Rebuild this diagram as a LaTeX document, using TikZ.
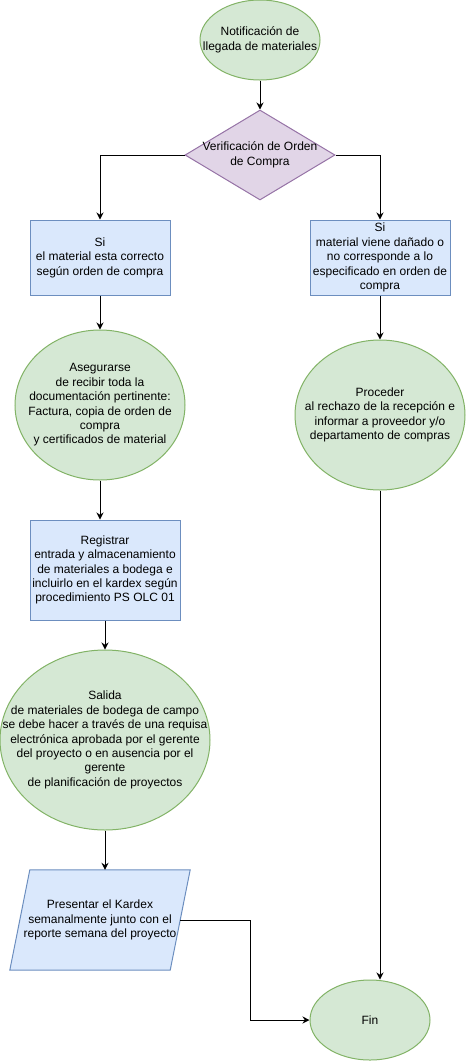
\documentclass[tikz,border=0pt]{standalone}
\usepackage{fontspec}
\setmainfont{Liberation Sans}
\usetikzlibrary{shapes.geometric,arrows.meta,calc}
\pgfdeclarelayer{background}
\pgfsetlayers{background,main}
\definecolor{gf}{HTML}{D5E8D4}
\definecolor{gd}{HTML}{82B366}
\definecolor{bf}{HTML}{DAE8FC}
\definecolor{bd}{HTML}{6C8EBF}
\definecolor{pf}{HTML}{E1D5E7}
\definecolor{pd}{HTML}{9673A6}
\tikzset{
  txt/.style={font=\fontsize{12}{14.4}\selectfont, align=center, inner sep=0pt, text=black},
  ell/.style={ellipse, draw=gd, fill=gf, line width=1pt, inner sep=0pt},
  box/.style={rectangle, draw=bd, fill=bf, line width=1pt, inner sep=0pt},
  dia/.style={diamond, draw=pd, fill=pf, line width=1pt, inner sep=0pt},
  arr/.style={-{Stealth[length=7pt,width=7pt]}, line width=1pt, black},
  lnk/.style={line width=1pt, black}
}
\begin{document}
\begin{tikzpicture}[x=1pt,y=-1pt]
\useasboundingbox (0,0) rectangle (466,1061);
\node[ell, minimum width=120, minimum height=80, label={[txt]center:{Notificación de\\llegada de materiales}}] (n1) at (260,40) {};
\node[dia, minimum width=150, minimum height=90, label={[txt]center:{Verificación de Orden\\de Compra}}] (d1) at (260,155) {};
\node[box, minimum width=140, minimum height=75, label={[txt]center:{Si\\el material esta correcto\\según orden de compra}}] (b1) at (100,257.5) {};
\node[box, minimum width=140, minimum height=75, label={[txt]center:{Si\\material viene dañado o\\no corresponde a lo\\especificado en orden de\\compra}}] (b2) at (380,257.5) {};
\node[ell, minimum width=170, minimum height=150, label={[txt]center:{Asegurarse\\de recibir toda la\\documentación pertinente:\\Factura, copia de orden de\\compra\\y certificados de material}}] (c1) at (100,405) {};
\node[ell, minimum width=170, minimum height=150, label={[txt]center:{Proceder\\al rechazo de la recepción e\\informar a proveedor y/o\\departamento de compras}}] (c2) at (380,415) {};
\node[box, minimum width=150, minimum height=100, label={[txt]center:{Registrar\\entrada y almacenamiento\\de materiales a bodega e\\incluirlo en el kardex según\\procedimiento PS OLC 01}}] (r1) at (105,570) {};
\node[ell, minimum width=210, minimum height=180, label={[txt]center:{Salida\\de materiales de bodega de campo\\se debe hacer a través de una requisa\\electrónica aprobada por el gerente\\del proyecto o en ausencia por el\\gerente\\de planificación de proyectos}}] (s1) at (105,740) {};
\node[rectangle, draw=none, minimum width=160, minimum height=100, inner sep=0pt, label={[txt]center:{Presentar el Kardex\\semanalmente junto con el\\reporte semana del proyecto}}] (p1) at (100,920) {};
\begin{pgfonlayer}{background}
\draw[draw=bd, fill=bf, line width=1pt] ($(p1.north west)+(10,0)$) -- ($(p1.north east)+(10,0)$) -- ($(p1.south east)+(-10,0)$) -- ($(p1.south west)+(-10,0)$) -- cycle;
\end{pgfonlayer}
\node[ell, minimum width=120, minimum height=80, label={[txt]center:{Fin}}] (f1) at (370,1020) {};
\draw[arr] (n1.south) -- (d1.north);
\draw[arr] (d1.west) -| (b1.north);
\draw[arr] (d1.east) -| (b2.north);
\draw[arr] (b1.south) -- (c1.north);
\draw[arr] (b2.south) -- (c2.north);
\draw[arr] (c1.south) -- (c1.south |- r1.north);
\draw[arr] (r1.south) -- (s1.north);
\draw[arr] (s1.south) -- (s1.south |- p1.north);
\draw[arr] (p1.east) -- ++(70,0) |- (f1.west);
\draw[arr] (c2.south) -- (c2.south |- f1.north);
\end{tikzpicture}
\end{document}
